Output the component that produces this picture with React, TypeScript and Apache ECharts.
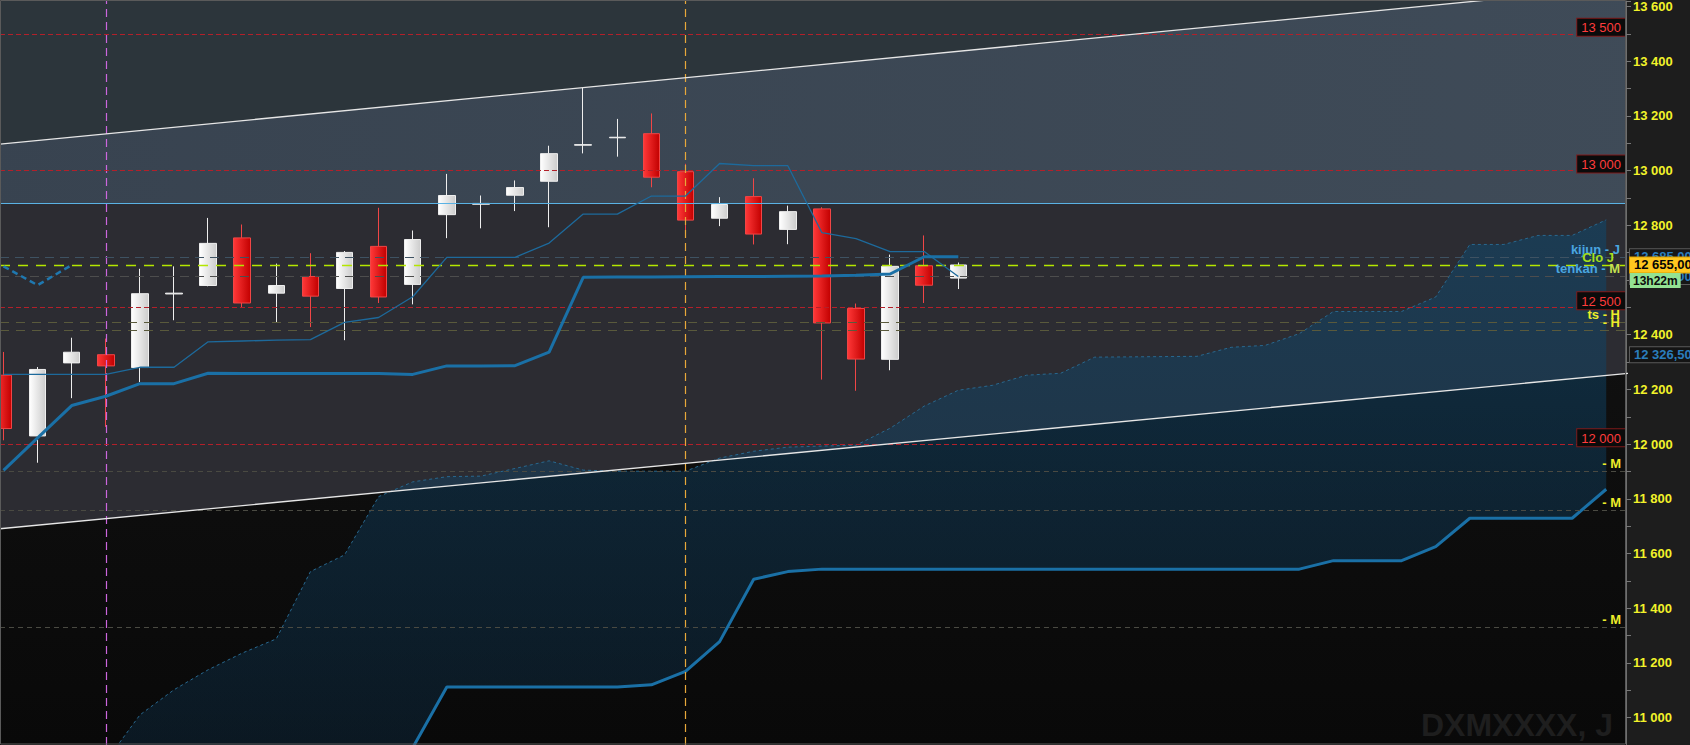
import React, { useEffect, useRef } from 'react';
import * as echarts from 'echarts';

const FONT = 'Arial, "Liberation Sans", sans-serif';

// candles: [open, close, low, high]
const candles: number[][] = [
  [12252, 12057, 12014, 12337],
  [12030, 12273, 11932, 12282],
  [12297, 12336, 12168, 12389],
  [12327, 12286, 12063, 12386],
  [12280, 12550, 12227, 12641],
  [12549, 12552, 12453, 12650],
  [12580, 12734, 12577, 12827],
  [12754, 12516, 12501, 12803],
  [12552, 12580, 12443, 12660],
  [12613, 12541, 12428, 12698],
  [12569, 12701, 12380, 12706],
  [12723, 12538, 12516, 12864],
  [12584, 12748, 12511, 12781],
  [12839, 12909, 12753, 12988],
  [12877, 12880, 12789, 12909],
  [12910, 12938, 12852, 12964],
  [12961, 13062, 12793, 13091],
  [13093, 13095, 13063, 13302],
  [13120, 13122, 13051, 13189],
  [13135, 12976, 12939, 13209],
  [12996, 12819, 12764, 13025],
  [12826, 12876, 12797, 12903],
  [12905, 12768, 12730, 12972],
  [12785, 12850, 12731, 12872],
  [12860, 12443, 12236, 12866],
  [12496, 12311, 12195, 12514],
  [12310, 12650, 12270, 12693],
  [12652, 12581, 12516, 12763],
  [12607, 12655, 12567, 12664],
];

const tenkan = [
  12255, 12255, 12255, 12255, 12281, 12281, 12374, 12377, 12380, 12382,
  12445, 12463, 12539, 12683, 12683, 12683, 12735, 12841, 12841, 12907,
  12907, 13026, 13018, 13018, 12773, 12751, 12704, 12704, 12613,
];

const kijun = [
  11904, 12023, 12141, 12175, 12221, 12221, 12259, 12258, 12258, 12258,
  12258, 12258, 12255, 12286, 12286, 12287, 12336, 12610, 12611, 12611,
  12612, 12613, 12613, 12614, 12615, 12617, 12622, 12685, 12685,
];

const chikou = [12650, 12581, 12655];

const senkouA = [
  10650, 10720, 10780, 10840, 11010, 11102, 11175, 11236, 11288, 11534,
  11595, 11808, 11862, 11881, 11883, 11911, 11939, 11905, 11901, 11901,
  11901, 11949, 11974, 11989, 11993, 11996, 12058, 12139, 12197, 12215,
  12252, 12259, 12318, 12319, 12320, 12321, 12354, 12361, 12404, 12485,
  12485, 12485, 12538, 12730, 12730, 12763, 12763, 12820,
];

const senkouB = [
  10600, 10600, 10600, 10600, 10600, 10600, 10600, 10600, 10600, 10600,
  10600, 10600, 10890, 11112, 11112, 11112, 11112, 11112, 11112, 11120,
  11169, 11278, 11506, 11534, 11543, 11543, 11543, 11543, 11543, 11543,
  11543, 11543, 11543, 11543, 11543, 11543, 11543, 11543, 11543, 11574,
  11574, 11574, 11625, 11729, 11729, 11729, 11729, 11835,
];

const upperTrend = [[-1, 13086], [49, 13690]];
const lowerTrend = [[-1, 11680], [49, 12275]];

const roundLevels = [13500, 13000, 12500, 12000];
const channelTop = 12880;
const closePrice = 12655;
const kijunLevel = 12685;
const tenkanLevel = 12613;
const tsLevels = [12445, 12416];
const tsLabels = ['ts - H', '- H'];
const mLevels = [11900, 11760, 11330];
const extraLevel = 12326.5;
const verticalMarks = [3, 20];
const timerText = '13h22m';
const watermark = 'DXMXXXX, J';

const Y_MIN = 10900;
const Y_MAX = 13620;
const X_MIN = -0.103;
const X_MAX = 47.58;

function fmt(v: number, d = 0) {
  const [i, f] = v.toFixed(d).split('.');
  const s = i.replace(/\B(?=(\d{3})+(?!\d))/g, ' ');
  return f ? `${s},${f}` : s;
}

const noLine = { width: 0, color: 'rgba(0,0,0,0)' };

function buildOption() {
  const bullGrad = new echarts.graphic.LinearGradient(0, 0, 1, 0, [
    { offset: 0, color: '#ffffff' },
    { offset: 1, color: '#cccccc' },
  ]);
  const bearGrad = new echarts.graphic.LinearGradient(0, 0, 1, 0, [
    { offset: 0, color: '#ff3838' },
    { offset: 1, color: '#c20000' },
  ]);
  const cloudGrad = new echarts.graphic.LinearGradient(0, 0, 0, 1, [
    { offset: 0, color: 'rgba(15,71,107,0.58)' },
    { offset: 1, color: 'rgba(15,58,92,0.25)' },
  ]);
  const gridGrad = new echarts.graphic.LinearGradient(0, 0, 0, 1, [
    { offset: 0, color: '#161616' },
    { offset: 1, color: '#090909' },
  ]);
  const zoneBGrad = new echarts.graphic.LinearGradient(0, 0, 1, 0, [
    { offset: 0, color: '#384350' },
    { offset: 1, color: '#3f4b58' },
  ]);

  const redItems = roundLevels.map((v) => ({
    yAxis: v,
    lineStyle: { color: '#b3202a', type: [5, 3], width: 1 },
    label: {
      show: true,
      position: 'insideEndTop',
      distance: [1, -2],
      formatter: fmt(v),
      color: '#ff3c3c',
      fontSize: 13,
      fontFamily: FONT,
      backgroundColor: '#0b0b0b',
      borderColor: '#7e1a1a',
      borderWidth: 1,
      padding: [2, 4, 1, 4],
      lineHeight: 14,
    },
  }));

  const yellowText = (txt: string, dx: number) => ({
    show: true,
    position: 'insideEndTop',
    distance: [dx, 1],
    formatter: txt,
    color: '#eded2a',
    fontSize: 13,
    fontWeight: 'bold',
    fontFamily: FONT,
  });

  const boxLabel = (txt: string, color: string, bg: string, border: string) => ({
    show: true,
    position: 'end',
    distance: [4, 0],
    formatter: txt,
    color,
    fontSize: 13,
    fontWeight: 'bold',
    fontFamily: FONT,
    backgroundColor: bg,
    borderColor: border,
    borderWidth: 1,
    padding: [1, 4, 0, 4],
    lineHeight: 14,
  });

  const hLines: any[] = [
    ...redItems,
    {
      yAxis: channelTop,
      lineStyle: { color: '#5ab2e4', type: 'solid', width: 1 },
      label: { show: false },
    },
    {
      yAxis: kijunLevel,
      lineStyle: { color: '#3e5262', type: [9, 6], width: 1 },
      label: {
        show: true,
        position: 'insideEndTop',
        distance: [6, 1],
        formatter: 'kijun - J',
        color: '#4aa6e0',
        fontSize: 13,
        fontWeight: 'bold',
        fontFamily: FONT,
      },
    },
    {
      yAxis: tenkanLevel,
      lineStyle: { color: '#4d4d4d', type: [9, 6], width: 1 },
      label: {
        show: true,
        position: 'insideEndTop',
        distance: [6, 1],
        formatter: '{a|tenkan - }{b|M}',
        rich: {
          a: { color: '#4aa6e0', fontSize: 13, fontWeight: 'bold', fontFamily: FONT },
          b: { color: '#c4e050', fontSize: 13, fontWeight: 'bold', fontFamily: FONT },
        },
      },
    },
    {
      yAxis: closePrice,
      lineStyle: { color: '#b4e600', type: [10, 8], width: 1.3 },
      label: {
        show: true,
        position: 'insideEndTop',
        distance: [12, 1],
        formatter: 'Clo J',
        color: '#a6df1c',
        fontSize: 13,
        fontWeight: 'bold',
        fontFamily: FONT,
      },
    },
    ...tsLevels.map((v, i) => ({
      yAxis: v,
      lineStyle: { color: '#5a5a3c', type: [9, 7], width: 1 },
      label: yellowText(tsLabels[i], 6),
    })),
    ...mLevels.map((v) => ({
      yAxis: v,
      lineStyle: { color: '#4a4a42', type: [5, 4], width: 1 },
      label: yellowText('- M', 5),
    })),
    {
      yAxis: tenkanLevel,
      lineStyle: noLine,
      label: boxLabel(fmt(tenkanLevel, 2), '#2a7dbd', '#161616', '#5a5a5a'),
    },
    {
      yAxis: kijunLevel,
      lineStyle: noLine,
      label: boxLabel(fmt(kijunLevel, 2), '#2a7dbd', '#161616', '#5a5a5a'),
    },
    {
      yAxis: extraLevel,
      lineStyle: noLine,
      label: boxLabel(fmt(extraLevel, 2), '#2a7dbd', '#141414', '#5a5a5a'),
    },
    {
      yAxis: closePrice,
      lineStyle: noLine,
      label: boxLabel(fmt(closePrice, 2), '#050505', '#ffc71f', '#d9a000'),
    },
    {
      yAxis: closePrice,
      lineStyle: noLine,
      label: {
        show: true,
        position: 'end',
        distance: [4, 0],
        verticalAlign: 'top',
        padding: [8, 0, 0, 0],
        formatter: '{t|' + timerText + '}',
        rich: {
          t: {
            backgroundColor: '#93e293',
            color: '#0d0d0d',
            fontWeight: 'bold',
            fontSize: 12,
            fontFamily: FONT,
            padding: [2, 3, 1, 3],
          },
        },
      },
    },
  ];

  const vColors = ['#cc66dd', '#e8a83a'];
  const vLines = verticalMarks.map((x, i) => ({
    xAxis: x,
    lineStyle: { color: vColors[i], type: [8, 5], width: 1.2 },
    label: { show: false },
  }));

  const toXY = (arr: number[]) => arr.map((v, i) => [i, v]);

  return {
    animation: false,
    backgroundColor: '#1d1d1d',
    grid: {
      left: 0,
      right: 64,
      top: 0,
      bottom: 0,
      show: true,
      backgroundColor: gridGrad,
      borderWidth: 0,
    },
    xAxis: {
      type: 'value',
      min: X_MIN,
      max: X_MAX,
      show: false,
      axisLine: { onZero: false },
    },
    yAxis: {
      type: 'value',
      position: 'right',
      min: Y_MIN,
      max: Y_MAX,
      interval: 100,
      splitLine: { show: false },
      axisLine: { show: true, onZero: false, lineStyle: { color: '#6e6e6e', width: 1 } },
      axisTick: { show: true, length: 5, lineStyle: { color: '#777' } },
      axisLabel: {
        margin: 7,
        color: '#f2f22a',
        fontWeight: 'bold',
        fontSize: 13,
        fontFamily: FONT,
        formatter: (v: number) => (Math.round(v) % 200 === 0 ? fmt(v) : ''),
      },
    },
    graphic: [
      {
        type: 'text',
        silent: true,
        z: 50,
        style: {
          x: 1613,
          y: 725,
          text: watermark,
          align: 'right',
          verticalAlign: 'middle',
          font: 'bold 32px ' + FONT,
          fill: '#1e1e1e',
        },
      },
      {
        type: 'rect',
        silent: true,
        z: 60,
        shape: { x: 0.5, y: 0.5, width: 1625, height: 743.5 },
        style: { fill: 'none', stroke: '#5a5a5a', lineWidth: 1 },
      },
    ],
    series: [
      {
        type: 'custom',
        name: 'zones',
        z: 1,
        clip: true,
        silent: true,
        data: [[0, 12000]],
        renderItem: (_params: any, api: any) => {
          const c = (x: number, y: number) => api.coord([x, y]);
          const [u0, u1] = upperTrend;
          const [l0, l1] = lowerTrend;
          return {
            type: 'group',
            children: [
              {
                type: 'polygon',
                shape: {
                  points: [c(u0[0], channelTop), c(u1[0], channelTop), c(u1[0], 14200), c(u0[0], 14200)],
                },
                style: { fill: '#2c353b' },
              },
              {
                type: 'polygon',
                shape: { points: [c(l0[0], l0[1]), c(l1[0], l1[1]), c(u1[0], u1[1]), c(u0[0], u0[1])] },
                style: { fill: '#2c2c32' },
              },
              {
                type: 'polygon',
                shape: {
                  points: [c(u0[0], channelTop), c(u1[0], channelTop), c(u1[0], u1[1]), c(u0[0], u0[1])],
                },
                style: { fill: zoneBGrad },
              },
            ],
          };
        },
      },
      {
        type: 'custom',
        name: 'cloud',
        z: 2,
        clip: true,
        silent: true,
        data: [[0, 12000]],
        renderItem: (_params: any, api: any) => {
          const top = senkouA.map((v, i) => api.coord([i, v]));
          const bottom = senkouB.map((v, i) => api.coord([i, v])).reverse();
          return {
            type: 'polygon',
            shape: { points: top.concat(bottom) },
            style: { fill: cloudGrad },
          };
        },
      },
      {
        type: 'line',
        name: 'vlines',
        z: 2,
        silent: true,
        data: [],
        markLine: { silent: true, symbol: ['none', 'none'], data: vLines },
      },
      {
        type: 'line',
        name: 'senkouA',
        z: 3,
        silent: true,
        symbol: 'none',
        data: toXY(senkouA),
        lineStyle: { color: '#28688f', width: 1, type: [3, 3] },
      },
      {
        type: 'line',
        name: 'senkouB',
        z: 3,
        silent: true,
        symbol: 'none',
        data: toXY(senkouB),
        lineStyle: { color: '#1a70a6', width: 3 },
      },
      {
        type: 'candlestick',
        name: 'price',
        z: 4,
        barWidth: 17,
        data: candles.map((c, i) => [i, c[0], c[1], c[2], c[3]]),
        encode: { x: 0, y: [1, 2, 3, 4] },
        itemStyle: {
          color: bullGrad,
          color0: bearGrad,
          borderColor: '#eeeeee',
          borderColor0: '#f04646',
          borderWidth: 1,
        },
      },
      {
        type: 'line',
        name: 'tenkan',
        z: 5,
        silent: true,
        symbol: 'none',
        data: toXY(tenkan),
        lineStyle: { color: '#1d6a9c', width: 1.3 },
      },
      {
        type: 'line',
        name: 'kijun',
        z: 5,
        silent: true,
        symbol: 'none',
        data: toXY(kijun),
        lineStyle: { color: '#1a70a6', width: 3 },
      },
      {
        type: 'line',
        name: 'chikou',
        z: 5,
        silent: true,
        symbol: 'none',
        data: toXY(chikou),
        lineStyle: { color: '#1f78b0', width: 2.5, type: [6, 4] },
      },
      {
        type: 'line',
        name: 'upperTrend',
        z: 5,
        silent: true,
        symbol: 'none',
        data: upperTrend,
        lineStyle: { color: '#e6e6e6', width: 1.3 },
      },
      {
        type: 'line',
        name: 'lowerTrend',
        z: 5,
        silent: true,
        symbol: 'none',
        data: lowerTrend,
        lineStyle: { color: '#e6e6e6', width: 1.3 },
      },
      {
        type: 'line',
        name: 'hlines',
        z: 6,
        silent: true,
        data: [],
        markLine: { silent: true, symbol: ['none', 'none'], data: hLines },
      },
    ],
  };
}

export default function App() {
  const ref = useRef<HTMLDivElement>(null);
  useEffect(() => {
    document.body.style.margin = '0';
    if (!ref.current) return;
    const chart = echarts.init(ref.current, undefined, { renderer: 'svg' });
    chart.setOption(buildOption() as any);
    return () => chart.dispose();
  }, []);
  return (
    <div
      ref={ref}
      style={{ position: 'fixed', left: 0, top: 0, width: 1690, height: 745 }}
    />
  );
}
